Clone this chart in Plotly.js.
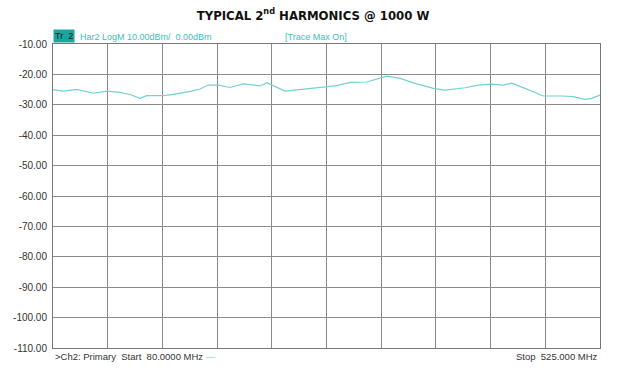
<!DOCTYPE html>
<html>
<head>
<meta charset="utf-8">
<script src="https://cdn.plot.ly/plotly-3.0.1.min.js"></script>
<style>html,body{margin:0;padding:0;background:#fff;}#chart{width:626px;height:376px;}</style>
</head>
<body>
<div id="chart"></div>
<script>
const freqMHz = [80, 88.4, 99.3, 112.8, 123.7, 134.5, 142.6, 150.8, 156.2, 169.7, 177.9, 188.8, 192.8, 199.6, 206.3, 214.5, 224.0, 234.8, 248.4, 253.9, 259.2, 268.7, 282.3, 298.6, 310.8, 321.6, 335.2, 351.5, 362.3, 375.9, 389.4, 398.9, 405.7, 415.2, 426.0, 436.9, 446.3, 453.2, 464.0, 478.9, 493.8, 503.3, 512.8, 518.2, 525];
const har2dBm = [-25.0, -25.5, -24.9, -26.2, -25.5, -25.9, -26.6, -27.9, -27.0, -27.0, -26.6, -25.9, -25.5, -24.8, -23.5, -23.5, -24.3, -23.1, -23.8, -22.7, -23.7, -25.5, -24.9, -24.3, -23.7, -22.6, -22.5, -20.6, -21.3, -23.1, -24.6, -25.2, -24.8, -24.4, -23.5, -23.2, -23.5, -22.9, -24.6, -27.1, -27.1, -27.3, -28.2, -27.9, -26.8];
const yTickVals = [-10, -20, -30, -40, -50, -60, -70, -80, -90, -100, -110];
const yTickText = ["-10.00", "-20.00", "-30.00", "-40.00", "-50.00", "-60.00", "-70.00", "-80.00", "-90.00", "-100.00", "-110.00"];
const xTickVals = [80, 124.5, 169, 213.5, 258, 302.5, 347, 391.5, 436, 480.5, 525];

const teal = '#3dbdb8';
const trace = {
  x: freqMHz, y: har2dBm, type: 'scatter', mode: 'lines',
  line: {color: '#74d2ce', width: 1.2}, hoverinfo: 'skip'
};
const layout = {
  width: 626, height: 376,
  margin: {l: 53, r: 26, t: 44, b: 28},
  paper_bgcolor: '#fff', plot_bgcolor: '#fff',
  showlegend: false,
  title: {
    text: '<b>TYPICAL 2<sup>nd</sup> HARMONICS @ 1000 W</b>',
    font: {family: 'DejaVu Sans Condensed, Liberation Sans Narrow, sans-serif', size: 13, color: '#111'},
    x: 0.5, xanchor: 'center', y: 0.96, yanchor: 'middle'
  },
  xaxis: {
    range: [80, 525], tickvals: xTickVals, showticklabels: false,
    showgrid: true, gridcolor: '#8a8a8a', gridwidth: 1,
    zeroline: false, showline: true, linecolor: '#777', linewidth: 1, mirror: true,
    ticks: ''
  },
  yaxis: {
    range: [-110, -10], tickvals: yTickVals, ticktext: yTickText,
    showgrid: true, gridcolor: '#8a8a8a', gridwidth: 1,
    zeroline: false, showline: true, linecolor: '#777', linewidth: 1, mirror: true,
    ticks: '', ticklabelstandoff: 3,
    tickfont: {family: 'Liberation Sans, Arial, sans-serif', size: 10, color: '#333'}
  },
  annotations: [
    {text: 'Tr  2', xref: 'paper', yref: 'paper', x: 0, y: 1, xanchor: 'left', yanchor: 'bottom',
     showarrow: false, bgcolor: '#1aa69e', font: {family: 'Liberation Sans, Arial, sans-serif', size: 9, color: '#111'},
     borderpad: 1, xshift: 0, yshift: 1},
    {text: 'Har2 LogM 10.00dBm/  0.00dBm', xref: 'paper', yref: 'paper', x: 0, y: 1, xanchor: 'left', yanchor: 'bottom',
     showarrow: false, font: {family: 'Liberation Sans, Arial, sans-serif', size: 9, color: teal}, xshift: 25, yshift: 0},
    {text: '[Trace Max On]', xref: 'paper', yref: 'paper', x: 0, y: 1, xanchor: 'left', yanchor: 'bottom',
     showarrow: false, font: {family: 'Liberation Sans, Arial, sans-serif', size: 9, color: teal}, xshift: 230, yshift: 0},
    {text: '>Ch2: Primary  Start  80.0000 MHz <span style="color:#74d2ce">—</span>', xref: 'paper', yref: 'paper', x: 0, y: 0, xanchor: 'left', yanchor: 'top',
     showarrow: false, font: {family: 'Liberation Sans, Arial, sans-serif', size: 9.5, color: '#333'}, xshift: 0, yshift: -1},
    {text: 'Stop  525.000 MHz', xref: 'paper', yref: 'paper', x: 1, y: 0, xanchor: 'right', yanchor: 'top',
     showarrow: false, font: {family: 'Liberation Sans, Arial, sans-serif', size: 9.5, color: '#333'}, xshift: 0, yshift: -1}
  ]
};
Plotly.newPlot('chart', [trace], layout, {staticPlot: true, displayModeBar: false});
</script>
</body>
</html>
